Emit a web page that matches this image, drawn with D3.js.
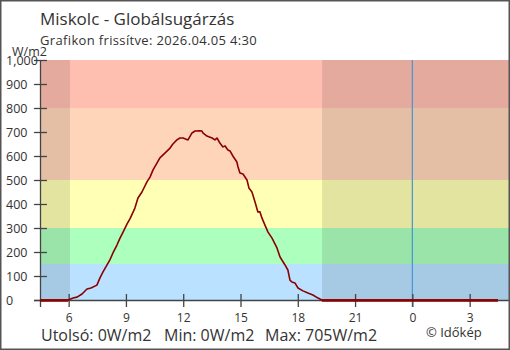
<!DOCTYPE html>
<html><head><meta charset="utf-8">
<script src="https://cdn.jsdelivr.net/npm/d3@7"></script>
<style>html,body{margin:0;padding:0;background:#fff}svg{display:block}text{font-family:"Open Sans",sans-serif;fill:#333}</style>
</head><body>
<script>
// Data: hours since midnight of first day (values > 24 are next day), W/m2
const hours = [4.50,5.97,6.23,6.44,6.70,6.96,7.17,7.48,7.64,7.80,8.01,8.16,8.32,8.53,8.69,8.85,9.06,9.21,9.47,9.63,9.84,10.10,10.26,10.42,10.63,10.78,11.04,11.31,11.46,11.67,11.83,11.99,12.25,12.46,12.62,12.88,12.98,13.03,13.24,13.51,13.66,13.77,13.92,14.08,14.19,14.34,14.45,14.60,14.81,14.87,14.97,15.13,15.34,15.44,15.60,15.76,15.91,16.02,16.12,16.28,16.44,16.65,16.91,17.07,17.33,17.48,17.59,17.69,17.85,18.01,18.27,18.53,18.79,19.06,19.16,19.26,28.48];
const values = [0,0,8,12,25,46,50,62,92,117,146,167,196,229,258,283,317,338,383,425,450,492,512,542,571,592,612,633,650,667,675,675,667,696,704,705,704,696,683,675,667,675,654,638,642,625,621,600,575,554,529,525,500,467,450,408,367,367,342,312,283,258,217,179,146,125,83,75,71,50,38,29,21,8,4,0,0];
const xTicks = [6,9,12,15,18,21,24,27];
const yTicks = [0,100,200,300,400,500,600,700,800,900,1000];
const bandLimits = [0,150,300,500,800,1000];
const bandColors = ["#bae1ff","#adffbe","#ffffb5","#ffd5b9","#ffbfb0"];
const nights = [[4.5,6.07],[19.27,29.06]];
const title = "Miskolc - Globálsugárzás";
const subtitle = "Grafikon frissítve: 2026.04.05 4:30";
const unit = "W/m2";
const stats = ["Utolsó: 0W/m2","Min: 0W/m2","Max: 705W/m2"];
const credit = "© Időkép";

const data = hours.map((h,i)=>({h, v: values[i]}));
const W=510,H=350;
const svg = d3.select("body").append("svg").attr("width",W).attr("height",H);
const x = d3.scaleLinear().domain([4.5,29.06]).range([40,509]);
const y = d3.scaleLinear().domain([0,1000]).range([300,60]);

// bands
for(let i=0;i<bandColors.length;i++){
  svg.append("rect").attr("x",40).attr("width",469)
    .attr("y",y(bandLimits[i+1])).attr("height",y(bandLimits[i])-y(bandLimits[i+1]))
    .attr("fill",bandColors[i]);
}
// night shading
nights.forEach(n=>{
  svg.append("rect").attr("x",x(n[0])).attr("width",x(n[1])-x(n[0]))
    .attr("y",y(1000)).attr("height",y(0)-y(1000)).attr("fill","rgba(0,0,0,0.105)");
});
// midnight line
svg.append("line").attr("x1",x(24)).attr("x2",x(24)).attr("y1",y(1000)).attr("y2",307)
  .attr("stroke","#4a98d4").attr("stroke-width",1.3);

// axes
const gx = svg.append("g").attr("transform","translate(0,300)")
  .call(d3.axisBottom(x).tickValues(xTicks).tickFormat(d=>String(d%24)).tickSize(7).tickSizeOuter(0).tickPadding(6));
gx.select(".domain").remove();
gx.selectAll(".tick line").attr("y1",-6).attr("y2",7).attr("stroke","#444").attr("stroke-width",1.3);
gx.selectAll(".tick text").attr("font-size",12).attr("fill","#333").attr("font-family","Open Sans, sans-serif");
svg.append("line").attr("x1",34).attr("x2",509).attr("y1",300.5).attr("y2",300.5).attr("stroke","#444").attr("stroke-width",1.3);

const gy = svg.append("g").attr("transform","translate(40,0)")
  .call(d3.axisLeft(y).tickValues(yTicks).tickSize(6).tickSizeOuter(0));
gy.select(".domain").remove();
gy.selectAll(".tick line").attr("x1",-6).attr("x2",7).attr("stroke","#444").attr("stroke-width",1.3);
gy.selectAll(".tick text").attr("x",-34).attr("text-anchor","start").attr("font-size",12.5).attr("fill","#333").attr("font-family","Open Sans, sans-serif");
svg.append("line").attr("x1",40.5).attr("x2",40.5).attr("y1",60).attr("y2",307).attr("stroke","#444").attr("stroke-width",1.3);

// data line
const line = d3.line().x(d=>x(d.h)).y(d=>y(d.v));
svg.append("path").datum(data).attr("d",line).attr("fill","none").attr("stroke","#8b0000").attr("stroke-width",1.6).attr("stroke-linejoin","round");
// zero segments thicker
const zl = d3.line().defined((d,i)=>d.v===0 && (i>0 && data[i-1].v===0 || (i<data.length-1 && data[i+1].v===0))).x(d=>x(d.h)).y(d=>y(d.v)+0.5);
svg.append("path").datum(data).attr("d",zl).attr("fill","none").attr("stroke","#8b0000").attr("stroke-width",2.6);

// texts
svg.append("text").attr("x",40).attr("y",25).attr("font-size",17).attr("fill","#222").text(title);
svg.append("text").attr("x",40).attr("y",45).attr("font-size",13).attr("letter-spacing",0.35).attr("fill","#444").text(subtitle);
svg.append("text").attr("x",12).attr("y",56).attr("font-size",12.5).attr("fill","#333").text(unit);
const sx=[41,164,265];
stats.forEach((s,i)=>svg.append("text").attr("x",sx[i]).attr("y",341).attr("font-size",16).attr("fill","#444").text(s));
svg.append("text").attr("x",426).attr("y",337).attr("font-size",13).attr("fill","#444").text(credit);

// frame
svg.append("rect").attr("x",0.75).attr("y",0.75).attr("width",508.5).attr("height",348.5)
  .attr("fill","none").attr("stroke","#555").attr("stroke-width",1.5);
</script>
</body></html>
